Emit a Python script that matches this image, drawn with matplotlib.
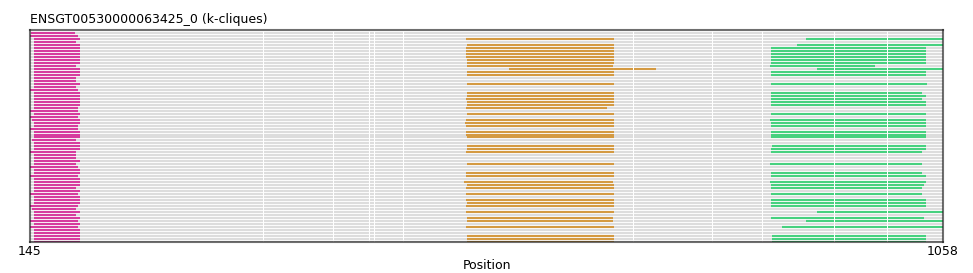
import matplotlib
matplotlib.use('Agg')
import matplotlib.pyplot as plt

# axis range and labels
x_min, x_max = 145, 1058
title = 'ENSGT00530000063425_0 (k-cliques)'
n_rows = 71

# small breaks in every track (exon boundaries)
gaps = [378, 448, 484, 489, 518, 748, 827, 877, 949, 1002]

# magenta k-clique, one interval per row
mag_start = [146, 140, 149, 149, 149, 149, 149, 149, 149, 149,
             149, 149, 149, 149, 149, 149, 149, 149, 149, 140,
             149, 149, 149, 149, 149, 149, 140, 149, 140, 147,
             149, 149, 140, 149, 149, 149, 147, 149, 149, 149,
             143, 149, 149, 149, 149, 140, 149, 149, 140, 149,
             149, 149, 149, 149, 140, 149, 149, 149, 140, 147,
             149, 149, 149, 140, 149, 140, 149, 149, 149, 149,
             149]
mag_end = [190, 193, 195, 191, 195, 195, 195, 195, 195, 195,
           195, 191, 195, 195, 195, 191, 191, 195, 191, 193,
           195, 195, 195, 195, 195, 193, 193, 195, 193, 195,
           195, 193, 193, 195, 195, 195, 191, 195, 195, 195,
           191, 191, 191, 195, 191, 193, 195, 195, 193, 195,
           195, 195, 191, 195, 193, 195, 195, 195, 193, 191,
           195, 191, 195, 193, 195, 193, 195, 195, 195, 195,
           195]

# orange k-clique
org_rows = [2, 4, 5, 6, 7, 8, 9, 10, 11, 12, 13, 14, 17, 20, 21, 22, 23, 24, 25,
            27, 29, 30, 31, 33, 34, 35, 38, 39, 40, 44, 47, 48, 50, 51, 52, 54,
            56, 57, 58, 60, 62, 63, 65, 68, 69, 70]
org_start = [581, 582, 581, 581, 581, 581, 582, 582, 582, 624, 582, 582, 582, 582, 582, 581, 582, 582, 581,
             582, 581, 580, 581, 581, 581, 582, 582, 582, 581, 582, 581, 581, 579, 582, 581, 581,
             581, 582, 581, 581, 582, 582, 581, 582, 582, 582]
org_end = [729, 729, 729, 729, 729, 729, 729, 729, 728, 771, 729, 729, 729, 729, 729, 729, 729, 729, 722,
           729, 729, 729, 729, 729, 729, 729, 729, 729, 729, 729, 729, 729, 728, 729, 729, 729,
           729, 729, 729, 729, 728, 728, 729, 729, 729, 729]

# green k-clique
grn_rows = [2, 4, 5, 6, 7, 8, 9, 10, 11, 12, 13, 14, 17, 20, 21, 22, 23, 24,
            27, 29, 30, 31, 33, 34, 35, 38, 39, 40, 44, 47, 48, 50, 51, 52, 54,
            56, 57, 58, 60, 62, 63, 65, 68, 69, 70]
grn_start = [921, 912, 886, 886, 886, 886, 886, 886, 885, 932, 886, 886, 886, 886, 886, 886, 886, 886,
             886, 885, 886, 886, 886, 886, 886, 887, 886, 886, 885, 886, 886, 885, 886, 886, 886,
             886, 886, 886, 932, 886, 921, 897, 887, 887, 887]
grn_end = [1058, 1058, 1041, 1041, 1041, 1041, 1041, 1041, 990, 1058, 1041, 1041, 1042, 1037, 1041, 1037, 1041, 1041,
           1041, 1041, 1041, 1041, 1041, 1041, 1041, 1041, 1041, 1037, 1037, 1037, 1041, 1041, 1039, 1037, 1037,
           1041, 1041, 1041, 1058, 1039, 1058, 1058, 1041, 1041, 1041]


def split(a, b, gap_w=1.0):
    """cut [a, b] at the gap positions"""
    pieces = []
    s = a
    for g in gaps:
        if a < g < b:
            pieces.append((s, g - gap_w / 2))
            s = g + gap_w / 2
    pieces.append((s, b))
    return pieces


def draw(ax, rows, starts, ends, color):
    ys, x0, x1 = [], [], []
    for r, a, b in zip(rows, starts, ends):
        for s, e in split(a, b):
            ys.append(r)
            x0.append(s)
            x1.append(e)
    ax.hlines(ys, x0, x1, colors=color, linewidth=1.5, capstyle='butt')


fig = plt.figure(figsize=(9.73, 2.73), dpi=100)
ax = fig.add_axes([30 / 973, 31 / 273, 913 / 973, 212 / 273])

rows = list(range(n_rows))
draw(ax, rows, [x_min] * n_rows, [x_max] * n_rows, '#dddddd')
draw(ax, rows, mag_start, mag_end, '#d63c9e')
draw(ax, org_rows, org_start, org_end, '#d49a42')
draw(ax, grn_rows, grn_start, grn_end, '#47d17f')

ax.set_xlim(x_min, x_max)
ax.set_ylim(n_rows - 1, -1)
ax.set_yticks([])
ax.set_xticks([x_min, x_max])
ax.tick_params(axis='x', length=0, pad=2, labelsize=9)
for sp in ax.spines.values():
    sp.set_color('#222222')
    sp.set_alpha(0.65)
    sp.set_linewidth(1.5)
ax.set_xlabel('Position', fontsize=9, labelpad=1)
ax.set_title(title, loc='left', fontsize=9, pad=5)

fig.savefig('out.png', dpi=100)
